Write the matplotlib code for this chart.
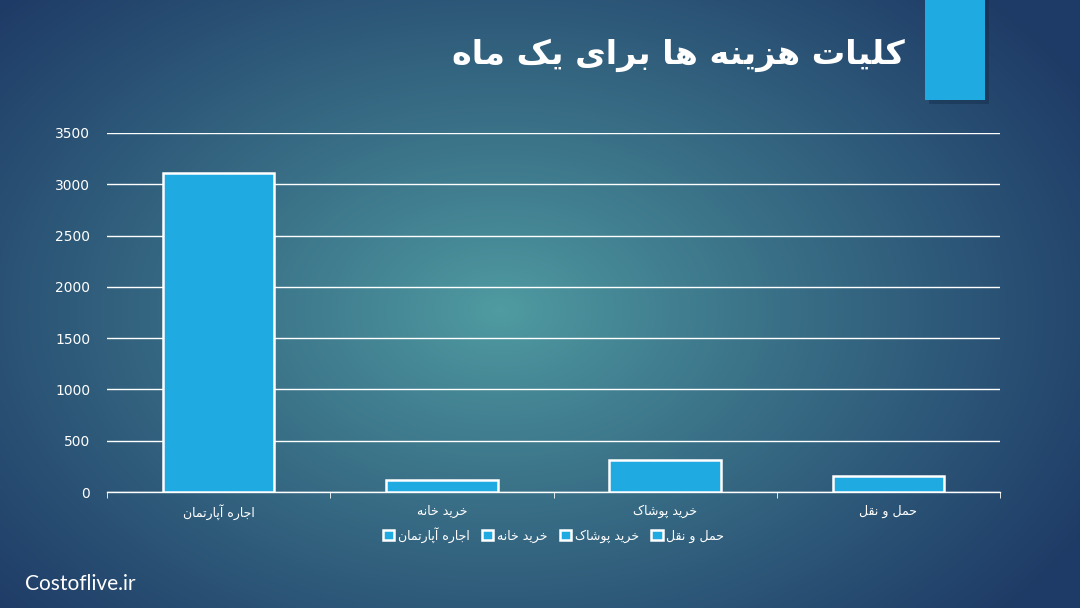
import numpy as np
import matplotlib.pyplot as plt
from matplotlib.patches import Rectangle

# chart data
categories = ['اجاره آپارتمان', 'خرید خانه', 'خرید پوشاک', 'حمل و نقل']
values = [3110, 120, 310, 160]
y_ticks = [0, 500, 1000, 1500, 2000, 2500, 3000, 3500]
title = 'کلیات هزینه ها برای یک ماه'

# persian presentation forms: (isolated, final, initial, medial)
FORMS = {
    'ا': (0xFE8D, 0xFE8E), 'آ': (0xFE81, 0xFE82),
    'ب': (0xFE8F, 0xFE90, 0xFE91, 0xFE92), 'پ': (0xFB56, 0xFB57, 0xFB58, 0xFB59),
    'ت': (0xFE95, 0xFE96, 0xFE97, 0xFE98), 'ج': (0xFE9D, 0xFE9E, 0xFE9F, 0xFEA0),
    'ح': (0xFEA1, 0xFEA2, 0xFEA3, 0xFEA4), 'خ': (0xFEA5, 0xFEA6, 0xFEA7, 0xFEA8),
    'د': (0xFEA9, 0xFEAA), 'ر': (0xFEAD, 0xFEAE), 'ز': (0xFEAF, 0xFEB0),
    'ش': (0xFEB5, 0xFEB6, 0xFEB7, 0xFEB8), 'ق': (0xFED5, 0xFED6, 0xFED7, 0xFED8),
    'ک': (0xFB8E, 0xFB8F, 0xFB90, 0xFB91), 'ل': (0xFEDD, 0xFEDE, 0xFEDF, 0xFEE0),
    'م': (0xFEE1, 0xFEE2, 0xFEE3, 0xFEE4), 'ن': (0xFEE5, 0xFEE6, 0xFEE7, 0xFEE8),
    'ه': (0xFEE9, 0xFEEA, 0xFEEB, 0xFEEC), 'و': (0xFEED, 0xFEEE),
    'ی': (0xFBFC, 0xFBFD, 0xFBFE, 0xFBFF),
}


def fa(text):
    # shape letters and put them in visual (left to right) order
    out = []
    for i, ch in enumerate(text):
        if ch not in FORMS:
            out.append(ch)
            continue
        prev = text[i - 1] if i > 0 else ''
        nxt = text[i + 1] if i + 1 < len(text) else ''
        join_prev = prev in FORMS and len(FORMS[prev]) == 4
        join_next = len(FORMS[ch]) == 4 and nxt in FORMS
        f = FORMS[ch]
        if join_prev and join_next:
            code = f[3]
        elif join_prev:
            code = f[1]
        elif join_next:
            code = f[2]
        else:
            code = f[0]
        out.append(chr(code))
    return ''.join(out[::-1])


bar_color = '#1FAAE1'

fig = plt.figure(figsize=(10.8, 6.08), dpi=100)

# radial gradient background
bg = fig.add_axes([0, 0, 1, 1])
yy, xx = np.mgrid[0:608, 0:1080]
r = np.sqrt(((xx - 500) / 680.0) ** 2 + ((yy - 310) / 460.0) ** 2)
r = np.clip(r, 0, 1)[..., None] ** 0.9
inner = np.array([80, 156, 162]) / 255.0
outer = np.array([30, 58, 102]) / 255.0
img = inner * (1 - r) + outer * r
bg.imshow(img, aspect='auto', extent=[0, 1080, 608, 0])
bg.set_xlim(0, 1080)
bg.set_ylim(608, 0)
bg.axis('off')

# blue accent block top right
bg.add_patch(Rectangle((929, 0), 60, 104, color='#10243f', alpha=0.35, lw=0))
bg.add_patch(Rectangle((925, 0), 60, 100, color=bar_color, lw=0))

fig.text(905 / 1080, 1 - 55 / 608, fa(title), color='white', fontsize=24,
         fontweight='bold', family='DejaVu Sans', ha='right', va='center')
fig.text(25 / 1080, 1 - 584 / 608, 'Costoflive.ir', color='white', fontsize=15,
         family='Lato', ha='left', va='center')

ax = fig.add_axes([107 / 1080, 1 - 492 / 608, 893 / 1080, 359 / 608])
ax.patch.set_alpha(0)
x = np.arange(len(categories))
labels = [fa(c) for c in categories]
bars = ax.bar(x, values, width=0.5, color=bar_color, edgecolor='white',
              linewidth=1.8, zorder=3)
for b, lab in zip(bars, labels):
    b.set_label(lab)

ax.set_xlim(-0.5, len(categories) - 0.5)
ax.set_ylim(0, 3500)
ax.set_yticks(y_ticks)
ax.set_yticklabels([str(t) for t in y_ticks])
ax.grid(axis='y', color='white', linewidth=1, zorder=0)
ax.set_xticks(x)
ax.set_xticklabels(labels, family='DejaVu Sans')
ax.set_xticks(np.arange(len(categories) + 1) - 0.5, minor=True)
ax.tick_params(axis='x', which='major', length=0, colors='white', labelsize=9, pad=9)
ax.tick_params(axis='x', which='minor', length=4, color='white', direction='out')
ax.tick_params(axis='y', length=0, colors='white', labelsize=10, pad=12)
for s in ['top', 'right', 'left']:
    ax.spines[s].set_visible(False)
ax.spines['bottom'].set_color('white')
ax.spines['bottom'].set_linewidth(1)

leg = ax.legend(loc='upper center', bbox_to_anchor=(0.5, -0.065), ncol=4,
                frameon=False, handlelength=0.9, handleheight=0.9,
                handletextpad=0.3, columnspacing=1.0,
                prop={'family': 'DejaVu Sans', 'size': 9})
for t in leg.get_texts():
    t.set_color('white')

fig.savefig('out.png', dpi=100)
